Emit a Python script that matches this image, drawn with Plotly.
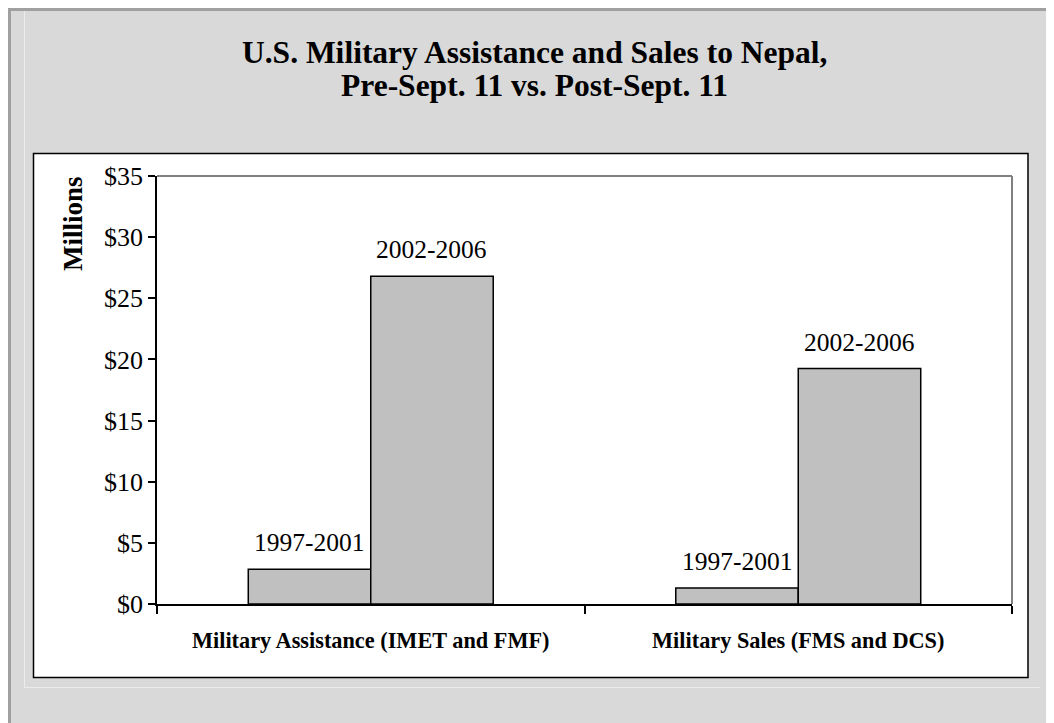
import plotly.graph_objects as go

categories = ["Military Assistance (IMET and FMF)", "Military Sales (FMS and DCS)"]
periods = ["1997-2001", "2002-2006"]
values_pre = [2.85, 1.3]
values_post = [26.8, 19.25]
y_ticks = [0, 5, 10, 15, 20, 25, 30, 35]
y_ticktext = ["$0", "$5", "$10", "$15", "$20", "$25", "$30", "$35"]
title_lines = ["U.S. Military Assistance and Sales to Nepal,", "Pre-Sept. 11 vs. Post-Sept. 11"]

W, H = 1054, 723
OFF = 8  # page offset of the figure inside the browser window
ML = 157 - OFF
MT = 176 - OFF
MR = W - (1012 - OFF)
MB = H - (604 - OFF)
PW = W - ML - MR
PH = H - MT - MB
FONT = "Liberation Serif, Times New Roman, serif"


def px(x):
    return (x - OFF - ML) / PW


def py(y):
    return (H - MB - (y - OFF)) / PH


fig = go.Figure()
for name, vals in [(periods[0], values_pre), (periods[1], values_post)]:
    fig.add_trace(go.Bar(
        x=categories, y=vals, name=name,
        marker=dict(color="#c0c0c0", line=dict(color="#000000", width=1.5)),
        hoverinfo="skip",
    ))

shapes = [
    # outer border (top/left) of the gray panel
    dict(type="line", xref="paper", yref="paper", x0=px(8), x1=px(1070), y0=py(9.5), y1=py(9.5),
         line=dict(color="#a0a0a0", width=3), layer="below"),
    dict(type="line", xref="paper", yref="paper", x0=px(9.5), x1=px(9.5), y0=py(8), y1=py(740),
         line=dict(color="#a0a0a0", width=3), layer="below"),
    # subtle bevel lines
    dict(type="line", xref="paper", yref="paper", x0=px(24.5), x1=px(24.5), y0=py(11), y1=py(687.5),
         line=dict(color="#ececec", width=1), layer="below"),
    dict(type="line", xref="paper", yref="paper", x0=px(24.5), x1=px(1040), y0=py(687.5), y1=py(687.5),
         line=dict(color="#ececec", width=1), layer="below"),
    # white chart box
    dict(type="rect", xref="paper", yref="paper", x0=px(33.5), x1=px(1028), y0=py(153.5), y1=py(677.5),
         fillcolor="#ffffff", line=dict(color="#000000", width=1.5), layer="below"),
    # plot area top/right border (gray)
    dict(type="line", xref="paper", yref="paper", x0=0, x1=1, y0=1, y1=1,
         line=dict(color="#808080", width=2), layer="below"),
    dict(type="line", xref="paper", yref="paper", x0=1, x1=1, y0=0, y1=1,
         line=dict(color="#808080", width=2), layer="below"),
]

annotations = []
# period labels above each bar
half = PW / len(categories) * (1 - 0.427) / 4
for i, cat in enumerate(categories):
    for j, vals in enumerate([values_pre, values_post]):
        annotations.append(dict(
            x=cat, y=vals[i], xref="x", yref="y", text=periods[j], showarrow=False,
            xshift=(-half if j == 0 else half), yshift=10, yanchor="bottom",
            font=dict(family=FONT, size=25.5, color="#000000"),
        ))

# title lines
annotations.append(dict(x=px(534), y=py(52), xref="paper", yref="paper", text=title_lines[0],
                        showarrow=False, yanchor="middle", xanchor="center",
                        font=dict(family=FONT, size=31.5, color="#000000", weight="bold")))
annotations.append(dict(x=px(534), y=py(85), xref="paper", yref="paper", text=title_lines[1],
                        showarrow=False, yanchor="middle", xanchor="center",
                        font=dict(family=FONT, size=31.5, color="#000000", weight="bold")))
# y-axis title
annotations.append(dict(x=px(73), y=py(224), xref="paper", yref="paper", text="Millions",
                        showarrow=False, textangle=-90, xanchor="center", yanchor="middle",
                        font=dict(family=FONT, size=27, color="#000000", weight="bold")))

fig.update_layout(
    width=W, height=H,
    margin=dict(l=ML, r=MR, t=MT, b=MB, pad=0),
    paper_bgcolor="#d9d9d9", plot_bgcolor="#ffffff",
    barmode="group", bargap=0.427, bargroupgap=0,
    showlegend=False,
    shapes=shapes, annotations=annotations,
    xaxis=dict(
        type="category", showline=True, linecolor="#000000", linewidth=1.5,
        ticks="outside", tickson="boundaries", ticklen=8, tickwidth=1.5, tickcolor="#000000",
        showgrid=False, zeroline=False,
        tickfont=dict(family=FONT, size=22.3, color="#000000", weight="bold"),
        ticklabelstandoff=15,
    ),
    yaxis=dict(
        range=[0, 35], tickvals=y_ticks, ticktext=y_ticktext,
        showline=True, linecolor="#000000", linewidth=1.5,
        ticks="outside", ticklen=7, tickwidth=1.5, tickcolor="#000000",
        showgrid=False, zeroline=False,
        tickfont=dict(family=FONT, size=26, color="#000000"),
    ),
)

fig.write_html("out.html")
